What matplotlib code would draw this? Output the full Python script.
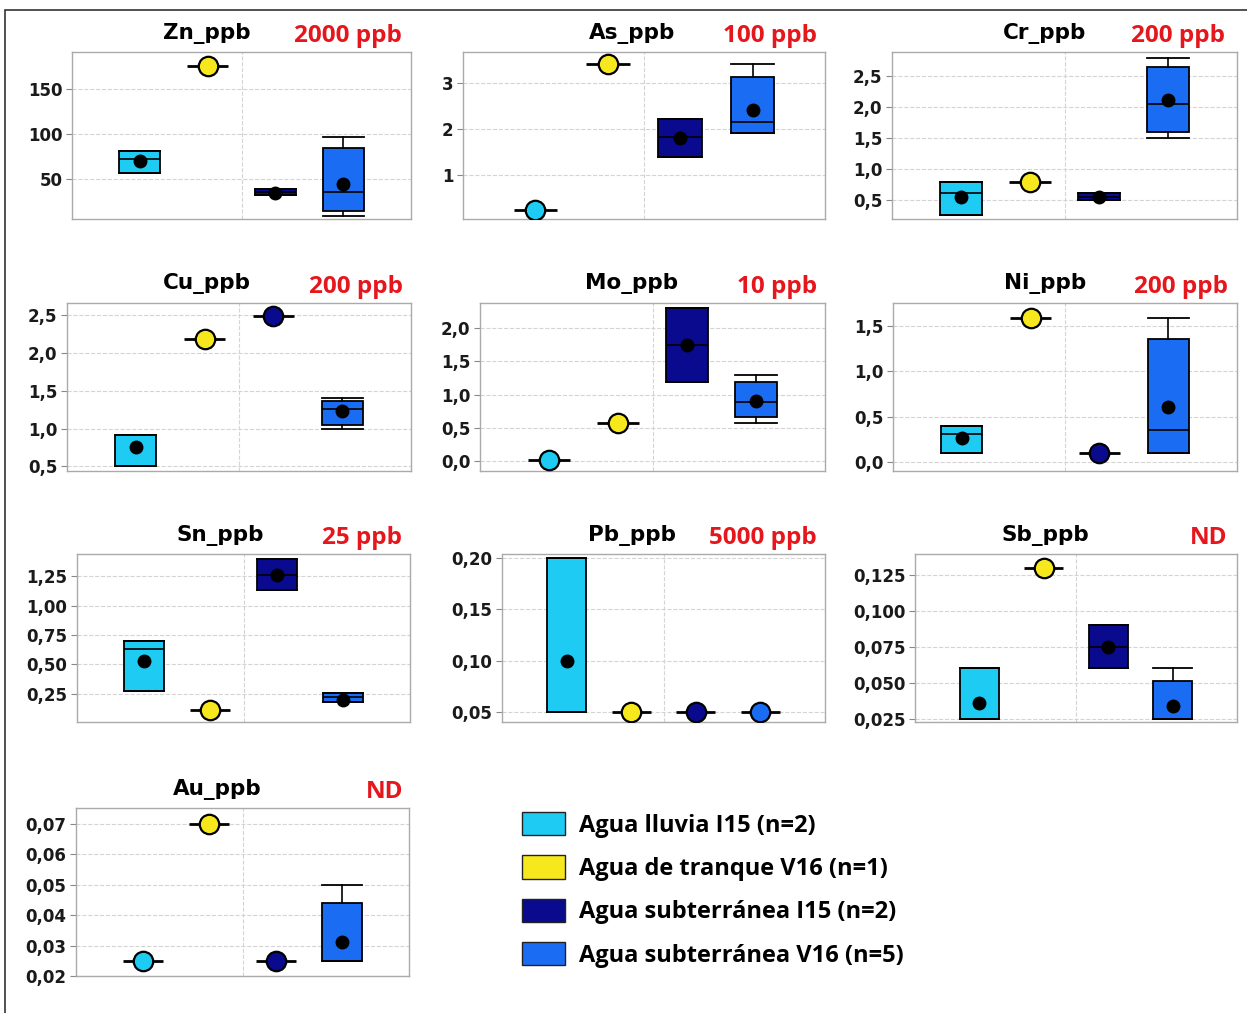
import matplotlib
matplotlib.use('Agg')
import matplotlib.pyplot as plt
from matplotlib.patches import Patch, Rectangle
from matplotlib.ticker import FuncFormatter

# Grupos de muestras
groups = ['Agua lluvia I15 (n=2)', 'Agua de tranque V16 (n=1)',
          'Agua subterránea I15 (n=2)', 'Agua subterránea V16 (n=5)']
colors = ['#1ECBF2', '#F6E81C', '#0A0A8E', '#1A6CF2']

# Elementos y límites normativos
elements = ['Zn_ppb', 'As_ppb', 'Cr_ppb', 'Cu_ppb', 'Mo_ppb',
            'Ni_ppb', 'Sn_ppb', 'Pb_ppb', 'Sb_ppb', 'Au_ppb']
limits = ['2000 ppb', '100 ppb', '200 ppb', '200 ppb', '10 ppb',
          '200 ppb', '25 ppb', '5000 ppb', 'ND', 'ND']

# (min, q1, mediana, q3, max, media) o un solo valor
zn = [(57, 57, 72, 81, 81, 70), 175, (33, 33, 36, 39, 39, 35.2), (9.7, 14.6, 36.3, 84.3, 96.5, 45.1)]
as_ = [0.23, 3.41, (1.38, 1.38, 1.82, 2.22, 2.22, 1.80), (1.90, 1.90, 2.15, 3.12, 3.42, 2.41)]
cr = [(0.25, 0.25, 0.61, 0.79, 0.79, 0.54), 0.78, (0.49, 0.49, 0.55, 0.61, 0.61, 0.55), (1.50, 1.59, 2.04, 2.64, 2.78, 2.10)]
cu = [(0.5, 0.5, 0.5, 0.91, 0.91, 0.76), 2.18, 2.49, (1.0, 1.05, 1.26, 1.37, 1.41, 1.23)]
mo = [0.02, 0.57, (1.19, 1.19, 1.74, 2.31, 2.31, 1.75), (0.58, 0.67, 0.89, 1.19, 1.30, 0.91)]
ni = [(0.10, 0.10, 0.305, 0.40, 0.40, 0.26), 1.58, 0.10, (0.10, 0.10, 0.35, 1.35, 1.59, 0.60)]
sn = [(0.27, 0.27, 0.63, 0.70, 0.70, 0.53), 0.11, (1.13, 1.13, 1.26, 1.40, 1.40, 1.26), (0.18, 0.18, 0.22, 0.26, 0.26, 0.20)]
pb = [(0.05, 0.05, 0.05, 0.20, 0.20, 0.10), 0.05, 0.05, 0.05]
sb = [(0.025, 0.025, 0.025, 0.06, 0.06, 0.036), 0.13, (0.06, 0.06, 0.075, 0.09, 0.09, 0.075), (0.025, 0.025, 0.025, 0.0515, 0.06, 0.034)]
au = [0.025, 0.07, 0.025, (0.025, 0.025, 0.025, 0.044, 0.05, 0.031)]
data = [zn, as_, cr, cu, mo, ni, sn, pb, sb, au]

ylims = [(6, 191), (0.04, 3.67), (0.19, 2.88), (0.44, 2.66), (-0.15, 2.38),
         (-0.1, 1.75), (0.01, 1.44), (0.04, 0.204), (0.0227, 0.1394), (0.02, 0.0751)]
yticks = [[50, 100, 150], [1, 2, 3], [0.5, 1.0, 1.5, 2.0, 2.5], [0.5, 1.0, 1.5, 2.0, 2.5],
          [0.0, 0.5, 1.0, 1.5, 2.0], [0.0, 0.5, 1.0, 1.5], [0.25, 0.5, 0.75, 1.0, 1.25],
          [0.05, 0.10, 0.15, 0.20], [0.025, 0.05, 0.075, 0.1, 0.125],
          [0.02, 0.03, 0.04, 0.05, 0.06, 0.07]]
decimals = [0, 0, 1, 1, 1, 1, 2, 2, 3, 2]

# posiciones de los ejes en pixeles (izq, der, arriba, abajo)
W, H = 1247, 1013
boxes_px = [(72, 411, 52, 219), (463, 825, 52, 219), (892, 1237, 52, 219),
            (67, 411, 303, 471), (480, 825, 303, 471), (893, 1237, 303, 471),
            (77, 410, 554, 722), (502, 825, 554, 722), (915, 1237, 554, 722),
            (76, 409, 808, 976)]
title_x = [207, 632, 1045, 207, 632, 1045, 220, 632, 1045, 217]
limit_x = [402, 817, 1225, 403, 817, 1228, 402, 817, 1227, 403]

red = '#E5161C'
fig = plt.figure(figsize=(W / 100, H / 100), dpi=100)
fig.patches.append(Rectangle((5 / W, -0.01), 1.02, 1 - 10 / H + 0.01, transform=fig.transFigure,
                             fill=False, edgecolor='#333333', linewidth=1.2))

for i in range(len(elements)):
    l, r, t, b = boxes_px[i]
    ax = fig.add_axes([l / W, 1 - b / H, (r - l) / W, (b - t) / H])
    for j, v in enumerate(data[i]):
        x = j + 1
        if isinstance(v, tuple):
            lo, q1, med, q3, hi, mean = v
            st = dict(whislo=lo, q1=q1, med=med, q3=q3, whishi=hi, mean=mean, fliers=[])
            ax.bxp([st], positions=[x], widths=0.6, capwidths=0.6, patch_artist=True,
                   showmeans=True, showfliers=False,
                   boxprops=dict(facecolor=colors[j], edgecolor='black', linewidth=1.3),
                   medianprops=dict(color='black', linewidth=1.2),
                   whiskerprops=dict(color='black', linewidth=1.2),
                   capprops=dict(color='black', linewidth=1.3),
                   meanprops=dict(marker='o', markerfacecolor='black',
                                  markeredgecolor='black', markersize=9),
                   zorder=3)
        else:
            ax.errorbar([x], [v], xerr=0.3, fmt='o', color='black', ecolor='black',
                        elinewidth=2, capsize=0, markersize=14, markerfacecolor=colors[j],
                        markeredgecolor='black', markeredgewidth=1.6, zorder=4)
    ax.set_xlim(0, 5)
    ax.set_ylim(*ylims[i])
    ax.set_xticks([])
    ax.set_yticks(yticks[i])
    d = decimals[i]
    ax.yaxis.set_major_formatter(FuncFormatter(lambda y, p, d=d: f'{y:.{d}f}'.replace('.', ',')))
    ax.tick_params(axis='y', length=4, color='#888888', labelsize=12, pad=3)
    for lab in ax.get_yticklabels():
        lab.set_fontweight('bold')
        lab.set_color('#1a1a1a')
    ax.grid(axis='y', linestyle='--', color='#d4d4d4', linewidth=0.8)
    ax.axvline(2.5, linestyle='--', color='#d4d4d4', linewidth=0.8, zorder=0)
    ax.set_axisbelow(True)
    for s in ax.spines.values():
        s.set_color('#aaaaaa')
        s.set_linewidth(1.0)
    fig.text(title_x[i] / W, 1 - (t - 19) / H, elements[i], ha='center', va='center',
             fontsize=15.5, fontweight='bold')
    fig.text(limit_x[i] / W, 1 - (t - 16) / H, limits[i], ha='right', va='center',
             fontsize=17.5, fontweight='bold', color=red, family='Open Sans')

handles = [Patch(facecolor=c, edgecolor='#222222', linewidth=1.0) for c in colors]
fig.legend(handles, groups, loc='upper left', bbox_to_anchor=(522 / W, 1 - 812 / H),
           frameon=False, borderpad=0, borderaxespad=0, handlelength=1.82, handleheight=1.14,
           handletextpad=0.6, labelspacing=0.75,
           prop=dict(family='Open Sans', weight='bold', size=17))

fig.savefig('out.png', dpi=100)
